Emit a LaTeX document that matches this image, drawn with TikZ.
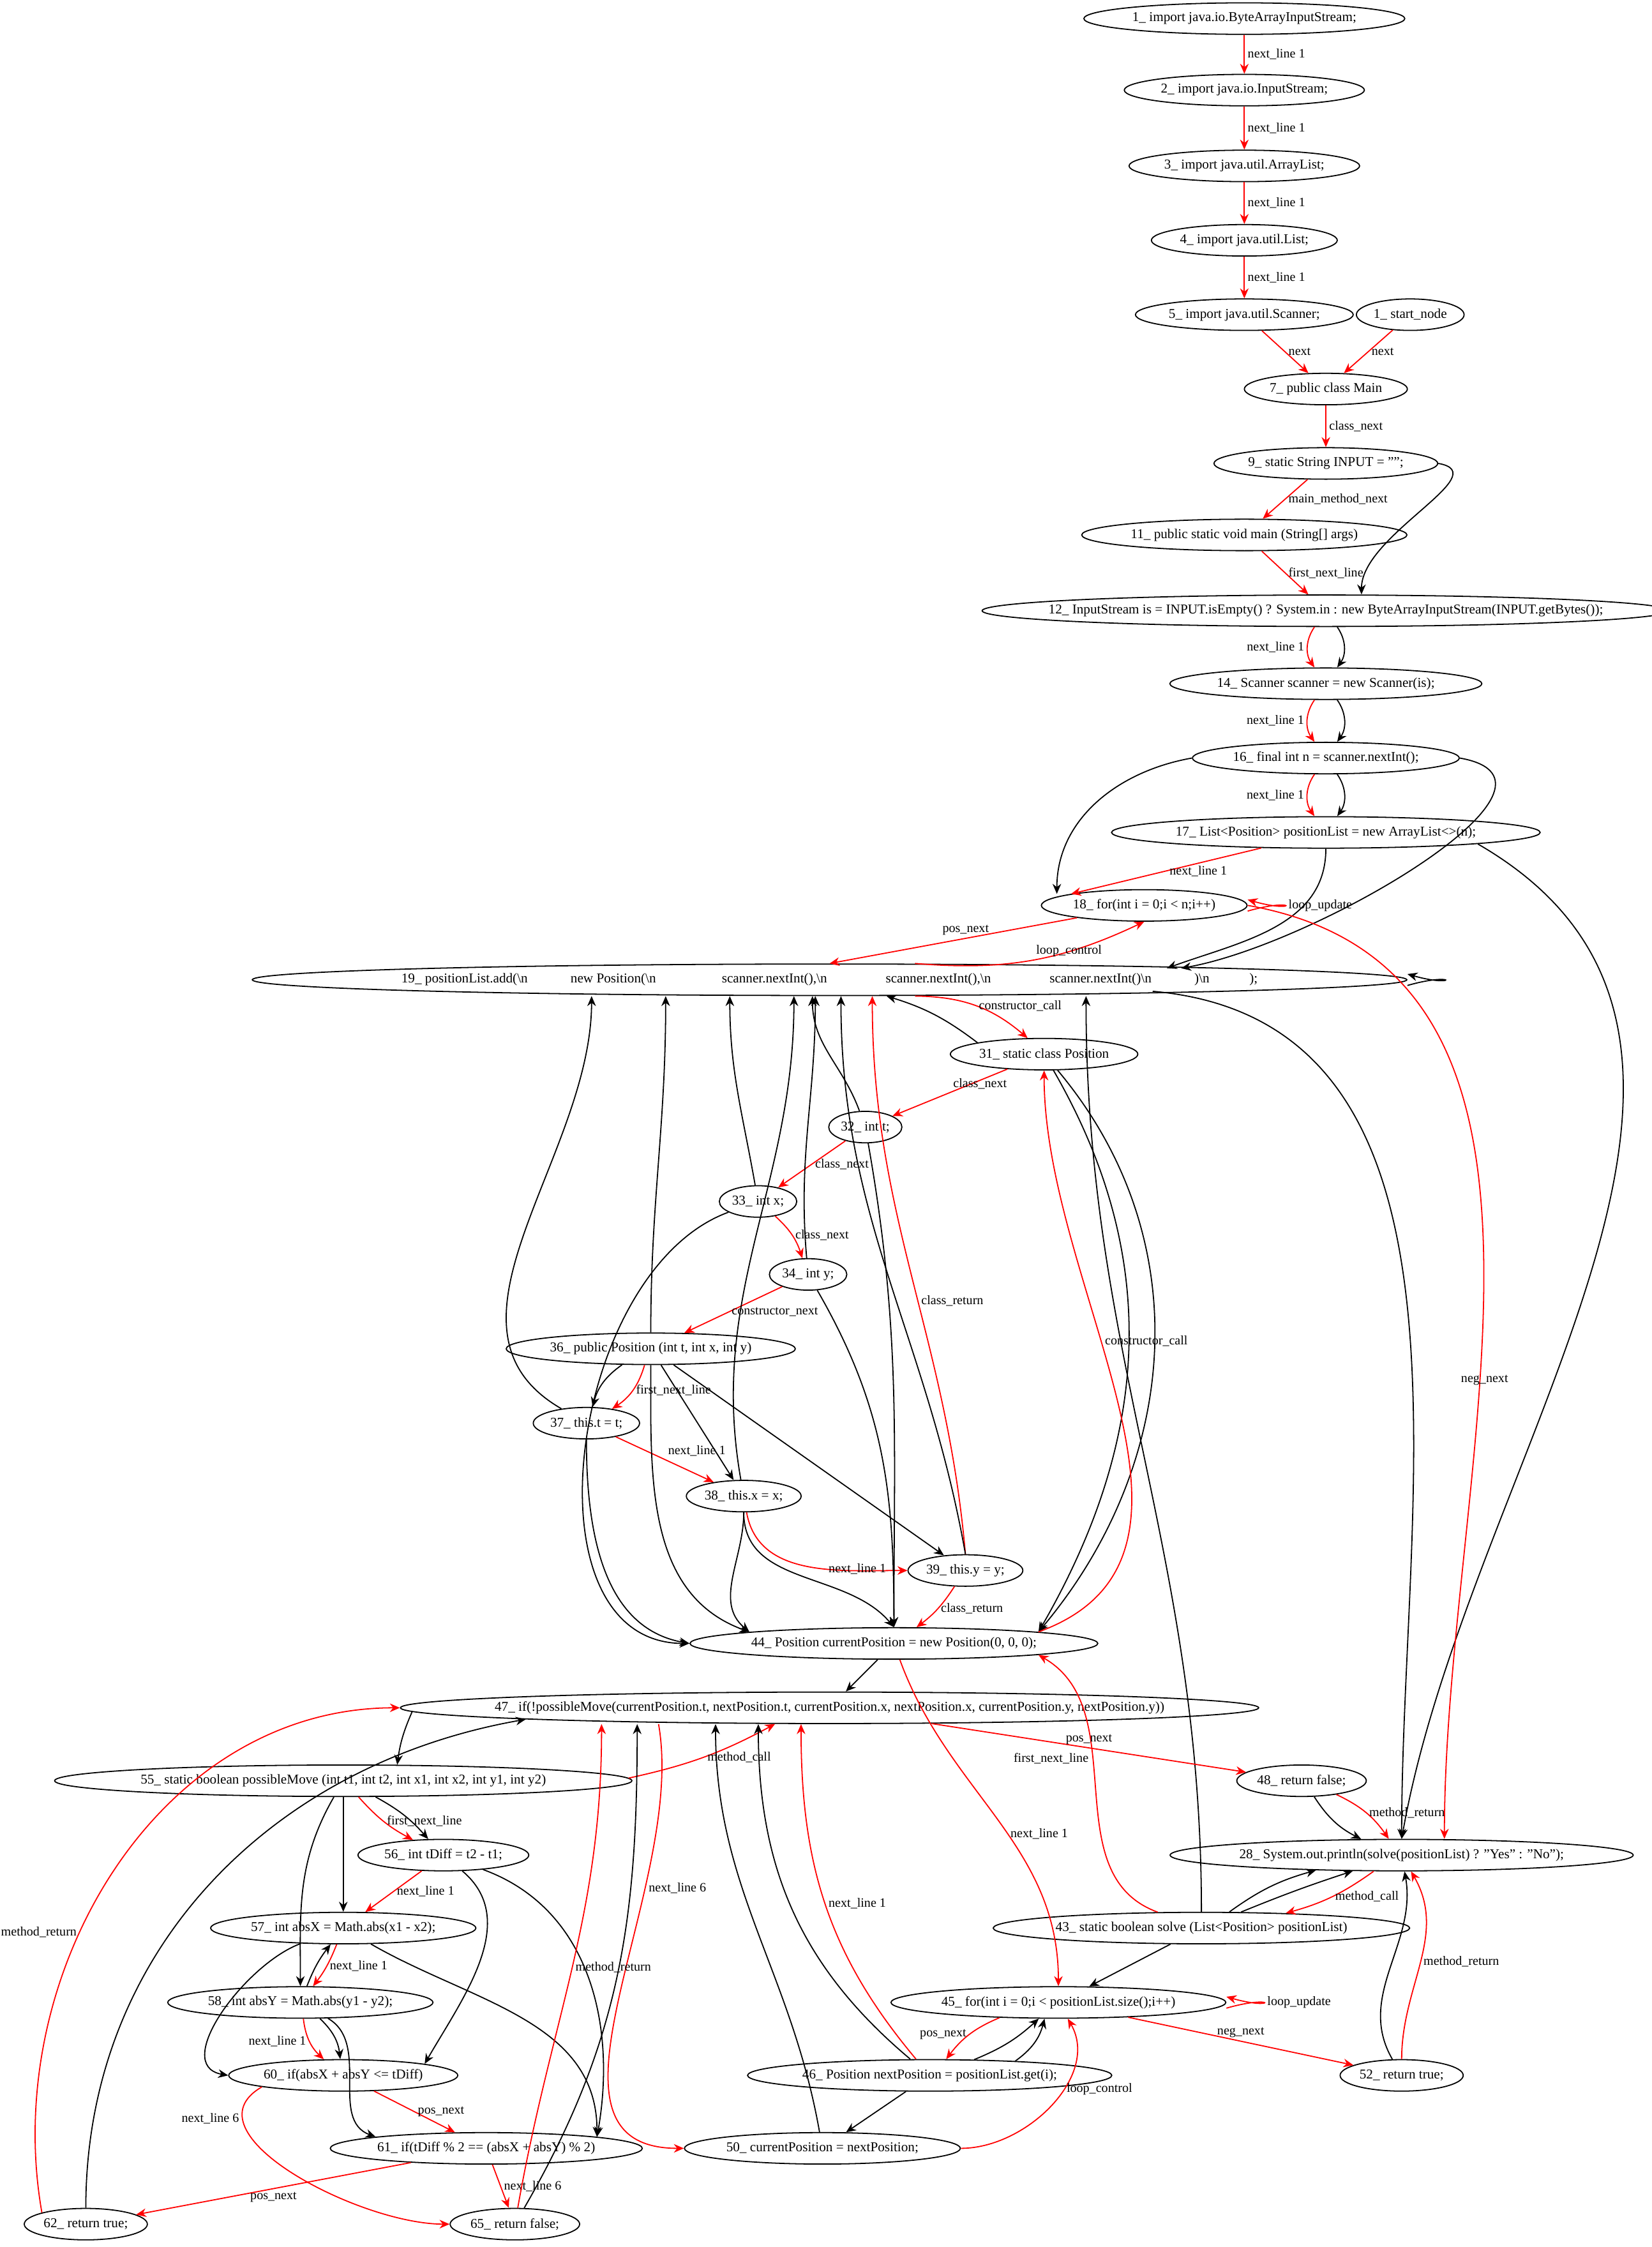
\documentclass[tikz,border=0pt]{standalone}
\usepackage{fontspec}
\setmainfont{Liberation Serif}
\usetikzlibrary{shapes.geometric}
\usetikzlibrary{arrows.meta}
\tikzset{
  stmt/.style={ellipse, draw, thick, inner sep=1pt, minimum height=22bp, font=\fontsize{9.5}{11}\selectfont},
  nx/.style={draw=red, thick, -{Stealth[length=7bp,width=6bp]}},
  dp/.style={draw=black, thick, -{Stealth[length=7bp,width=6bp]}},
  lbl/.style={font=\fontsize{9}{11}\selectfont, inner sep=2pt}
}
\def\nl{\textbackslash n}
\begin{document}
\begin{tikzpicture}[x=1bp,y=-1bp]
\useasboundingbox (0,0) rectangle (1155,1571);

% statements
\node[stmt] (n1) at (870, 13) {1\_ import java.io.ByteArrayInputStream;};
\node[stmt] (n2) at (870, 63) {2\_ import java.io.InputStream;};
\node[stmt] (n3) at (870, 116) {3\_ import java.util.ArrayList;};
\node[stmt] (n4) at (870, 168) {4\_ import java.util.List;};
\node[stmt] (n5) at (870, 220) {5\_ import java.util.Scanner;};
\node[stmt] (s1) at (986, 220) {1\_ start\_node};
\node[stmt] (n7) at (927, 272) {7\_ public class Main};
\node[stmt] (n9) at (927, 324) {9\_ static String INPUT = "";};
\node[stmt] (n11) at (870, 374) {11\_ public static void main (String[] args)};
\node[stmt, inner xsep=-24pt] (n12) at (927, 427) {12\_ InputStream is = INPUT.isEmpty() ? System.in : new ByteArrayInputStream(INPUT.getBytes());};
\node[stmt] (n14) at (927, 478) {14\_ Scanner scanner = new Scanner(is);};
\node[stmt] (n16) at (927, 530) {16\_ final int n = scanner.nextInt();};
\node[stmt] (n17) at (927, 582) {17\_ List<Position> positionList = new ArrayList<>(n);};
\node[stmt] (n18) at (800, 633) {18\_ for(int i = 0;i < n;i++)};
\node[stmt, inner xsep=-14pt] (n19) at (580, 685) {19\_ positionList.add(\nl\hspace{30bp}new Position(\nl\hspace{46bp}scanner.nextInt(),\nl\hspace{41bp}scanner.nextInt(),\nl\hspace{41bp}scanner.nextInt()\nl\hspace{30bp})\nl\hspace{28bp});};
\node[stmt] (n31) at (730, 737) {31\_ static class Position};
\node[stmt] (n32) at (605, 788) {32\_ int t;};
\node[stmt] (n33) at (530, 840) {33\_ int x;};
\node[stmt] (n34) at (565, 891) {34\_ int y;};
\node[stmt] (n36) at (455, 943) {36\_ public Position (int t, int x, int y)};
\node[stmt] (n37) at (410, 995) {37\_ this.t = t;};
\node[stmt] (n38) at (520, 1046) {38\_ this.x = x;};
\node[stmt] (n39) at (675, 1098) {39\_ this.y = y;};
\node[stmt] (n44) at (625, 1149) {44\_ Position currentPosition = new Position(0, 0, 0);};
\node[stmt, inner xsep=-22pt] (n47) at (580, 1194) {47\_ if(!possibleMove(currentPosition.t, nextPosition.t, currentPosition.x, nextPosition.x, currentPosition.y, nextPosition.y))};
\node[stmt] (n55) at (240, 1245) {55\_ static boolean possibleMove (int t1, int t2, int x1, int x2, int y1, int y2)};
\node[stmt] (n48) at (910, 1245) {48\_ return false;};
\node[stmt] (n56) at (310, 1297) {56\_ int tDiff = t2 - t1;};
\node[stmt] (n28) at (980, 1297) {28\_ System.out.println(solve(positionList) ? "Yes" : "No");};
\node[stmt] (n57) at (240, 1348) {57\_ int absX = Math.abs(x1 - x2);};
\node[stmt] (n43) at (840, 1348) {43\_ static boolean solve (List<Position> positionList)};
\node[stmt] (n58) at (210, 1400) {58\_ int absY = Math.abs(y1 - y2);};
\node[stmt] (n45) at (740, 1400) {45\_ for(int i = 0;i < positionList.size();i++)};
\node[stmt] (n60) at (240, 1451) {60\_ if(absX + absY <= tDiff)};
\node[stmt] (n46) at (650, 1451) {46\_ Position nextPosition = positionList.get(i);};
\node[stmt] (n52) at (980, 1451) {52\_ return true;};
\node[stmt] (n61) at (340, 1502) {61\_ if(tDiff \% 2 == (absX + absY) \% 2)};
\node[stmt] (n50) at (575, 1502) {50\_ currentPosition = nextPosition;};
\node[stmt] (n62) at (60, 1555) {62\_ return true;};
\node[stmt] (n65) at (360, 1555) {65\_ return false;};

% header
\draw[nx] (n1) -- node[lbl, right] {next\_line 1} (n2);
\draw[nx] (n2) -- node[lbl, right] {next\_line 1} (n3);
\draw[nx] (n3) -- node[lbl, right] {next\_line 1} (n4);
\draw[nx] (n4) -- node[lbl, right] {next\_line 1} (n5);
\draw[nx] (n5) -- node[lbl, right] {next} (n7);
\draw[nx] (s1) -- node[lbl, right] {next} (n7);
\draw[nx] (n7) -- node[lbl, right] {class\_next} (n9);
\draw[nx] (n9) -- node[lbl, right] {main\_method\_next} (n11);
\draw[dp] (n9.east) to[out=-10, in=90] ([xshift=25]n12.north);
\draw[nx] (n11) -- node[lbl, right] {first\_next\_line} (n12);
\draw[nx] (n12) to[bend right=35] node[lbl, left] {next\_line 1} (n14);
\draw[dp] (n12) to[bend left=35] (n14);
\draw[nx] (n14) to[bend right=35] node[lbl, left] {next\_line 1} (n16);
\draw[dp] (n14) to[bend left=35] (n16);
\draw[nx] (n16) to[bend right=35] node[lbl, left] {next\_line 1} (n17);
\draw[dp] (n16) to[bend left=35] (n17);
\draw[dp] (n16.west) to[out=190, in=90] ([xshift=-10]n18.north west);
\draw[dp] (n16.east) to[out=-10, in=10] ([xshift=-40]n19.north east);
\draw[nx] (n17) -- node[lbl, right] {next\_line 1} (n18.north west);
\draw[dp] (n17.south) to[out=-90, in=20] ([xshift=-50]n19.north east);
\draw[dp] (n17.south east) to[out=-30, in=80] (n28.north);

% main loop
\draw[nx] ([yshift=-4]n18.east) .. controls +(35,-10) and +(35,10) .. node[lbl, right] {loop\_update} ([yshift=4]n18.east);
\draw[nx] (n18) -- node[lbl, above, pos=0.45] {pos\_next} (n19.north);
\draw[nx] ([xshift=60]n19.north) to[bend right=15] node[lbl, above right] {loop\_control} (n18.south);
\draw[nx] (n18.east) to[out=-10, in=90] ([xshift=30]n28.north);
\node[lbl] (lneg) at (1038, 965) {neg\_next};
\draw[dp] ([yshift=-4]n19.east) .. controls +(35,-10) and +(35,10) .. ([yshift=4]n19.east);
\draw[dp] ([xshift=-60]n19.south east) to[out=-5, in=90] (n28.north);

% class Position
\draw[nx] ([xshift=60]n19.south) to[bend left=20] node[lbl, right] {constructor\_call} (n31);
\draw[dp] (n31.north west) to[bend right=10] ([xshift=40]n19.south);

\draw[nx] (n31) -- node[lbl, above right] {class\_next} (n32);
\draw[nx] (n32) -- node[lbl, right] {class\_next} (n33);
\draw[nx] (n33) to[bend left=15] node[lbl, right] {class\_next} (n34);
\draw[nx] (n34) -- node[lbl, right, pos=0.55] {constructor\_next} (n36);
\draw[nx] (n36) to[bend left=20] node[lbl, right] {first\_next\_line} (n37);
\draw[dp] (n36) to[bend right=20] (n37);
\draw[nx] (n37) -- node[lbl, above right] {next\_line 1} (n38);
\draw[nx] (n38) to[out=-80, in=180] node[lbl, right, pos=0.6] {next\_line 1} (n39);
\draw[dp] (n36) -- (n38);
\draw[dp] (n36) -- (n39);
\draw[nx] (n39) to[bend left=10] node[lbl, right] {class\_return} (n44);
\draw[nx] (n39.north) to[out=95, in=-90] node[lbl, right, pos=0.45] {class\_return} ([xshift=30]n19.south);

% statements back to 19
\draw[dp] (n32) to[out=110, in=-90] ([xshift=-12]n19.south);
\draw[dp] (n33) to[out=100, in=-90] ([xshift=-70]n19.south);
\draw[dp] (n34) to[out=95, in=-90] ([xshift=-10]n19.south);
\draw[dp] (n36) to[out=90, in=-90] ([xshift=-115]n19.south);
\draw[dp] (n37) to[out=150, in=-90] ([xshift=-167]n19.south);
\draw[dp] (n38) to[out=100, in=-90] ([xshift=-25]n19.south);
\draw[dp] (n39.north) to[out=100, in=-90] ([xshift=8]n19.south);
\draw[dp] (n43.north) to[out=90, in=-90] ([xshift=180]n19.south);

% statements into 44
\draw[dp] (n31) to[out=-60, in=60] (n44.north east);
\draw[dp] (n31) to[out=-50, in=50] (n44.north east);
\draw[dp] (n32) to[out=-80, in=90] (n44.north);
\draw[dp] (n33) to[out=-160, in=180] (n44.west);
\draw[dp] (n34) to[out=-60, in=90] (n44.north);
\draw[dp] (n36) to[out=-90, in=160] (n44.north west);
\draw[dp] (n37) to[out=-90, in=170] (n44.west);
\draw[dp] (n38) to[out=-90, in=140] (n44.north west);
\draw[dp] (n38) to[out=-90, in=130] (n44.north);
\draw[nx] (n44.north east) to[out=20, in=-90] node[lbl, right, pos=0.6] {constructor\_call} (n31.south);

% solve
\draw[dp] (n44) -- (n47);
\draw[nx] (n44) to[out=-70, in=90] node[lbl, right, pos=0.55] {next\_line 1} (n45);
\draw[nx] (n43) to[out=160, in=-30] node[lbl, left, pos=0.6] {first\_next\_line} (n44.south east);
\draw[dp] (n43) -- (n45);
\draw[dp] (n43) to[bend left=10] (n28);
\draw[dp] (n43) to[bend left=2] (n28);
\draw[nx] (n28) to[bend left=10] node[lbl, right] {method\_call} (n43);
\draw[nx] (n47) -- node[lbl, above] {pos\_next} (n48);
\draw[nx] (n48) to[bend left=15] node[lbl, right] {method\_return} (n28);
\draw[dp] (n48) to[bend right=15] (n28);
\draw[dp] (n47) to[bend right=8] (n55);
\draw[nx] (n55) to[bend right=8] node[lbl, right] {method\_call} (n47);
\draw[nx] ([xshift=-120]n47.south) to[out=-80, in=180] node[lbl, right, pos=0.3] {next\_line 6} (n50.west);

% possibleMove
\draw[nx] (n55) to[bend right=10] node[lbl, right] {first\_next\_line} (n56);
\draw[dp] (n55) to[bend left=10] (n56);
\draw[dp] (n55) -- (n57);
\draw[dp] (n55) to[out=-120, in=90] (n58);
\draw[nx] (n56) -- node[lbl, right] {next\_line 1} (n57);
\draw[dp] (n56) to[out=-40, in=60] (n60.north east);
\draw[dp] (n56) to[out=-20, in=80] (n61.north east);
\draw[nx] (n57) to[bend left=8] node[lbl, right] {next\_line 1} (n58);
\draw[dp] (n58) to[bend left=8] (n57);
\draw[dp] (n57) to[out=-160, in=170] (n60.west);
\draw[dp] (n57) to[out=-30, in=90] (n61.north east);
\draw[nx] (n58) to[bend right=20] node[lbl, left] {next\_line 1} (n60);
\draw[dp] (n58) to[bend left=20] (n60);
\draw[dp] (n58) to[out=-30, in=160] (n61.north west);
\draw[nx] (n60) -- node[lbl, right] {pos\_next} (n61);
\draw[nx] (n60.south west) to[out=-150, in=180] node[lbl, left, pos=0.2] {next\_line 6} (n65.west);
\draw[nx] (n61) -- node[lbl, below] {pos\_next} (n62);
\draw[nx] (n61) -- node[lbl, right] {next\_line 6} (n65);
\draw[nx] (n62.north west) to[out=100, in=180] node[lbl, left, pos=0.4] {method\_return} (n47.west);
\draw[dp] (n62) to[out=90, in=190] (n47.south west);
\draw[nx] (n65) to[out=80, in=-90] node[lbl, right, pos=0.5] {method\_return} ([xshift=-160]n47.south);
\draw[dp] (n65) to[out=60, in=-90] ([xshift=-135]n47.south);

% loop over positions
\draw[nx] ([yshift=-4]n45.east) .. controls +(35,-10) and +(35,10) .. node[lbl, right] {loop\_update} ([yshift=4]n45.east);
\draw[nx] (n45) to[bend right=15] node[lbl, left] {pos\_next} (n46);
\draw[dp] (n46) to[bend right=10] (n45);
\draw[dp] (n46) to[bend right=20] (n45);
\draw[nx] (n45) -- node[lbl, above] {neg\_next} (n52);
\draw[nx] (n46) to[out=130, in=-90] node[lbl, right, pos=0.5] {next\_line 1} ([xshift=-20]n47.south);
\draw[dp] (n46) to[out=140, in=-90] ([xshift=-50]n47.south);
\draw[dp] (n46) -- (n50);
\draw[dp] (n50) to[out=100, in=-90] ([xshift=-80]n47.south);
\draw[nx] (n50) to[out=0, in=-60] node[lbl, right, pos=0.6] {loop\_control} (n45);
\draw[nx] (n52) to[out=90, in=-60] node[lbl, right, pos=0.5] {method\_return} (n28);
\draw[dp] (n52) to[out=120, in=-80] (n28);
\end{tikzpicture}
\end{document}
